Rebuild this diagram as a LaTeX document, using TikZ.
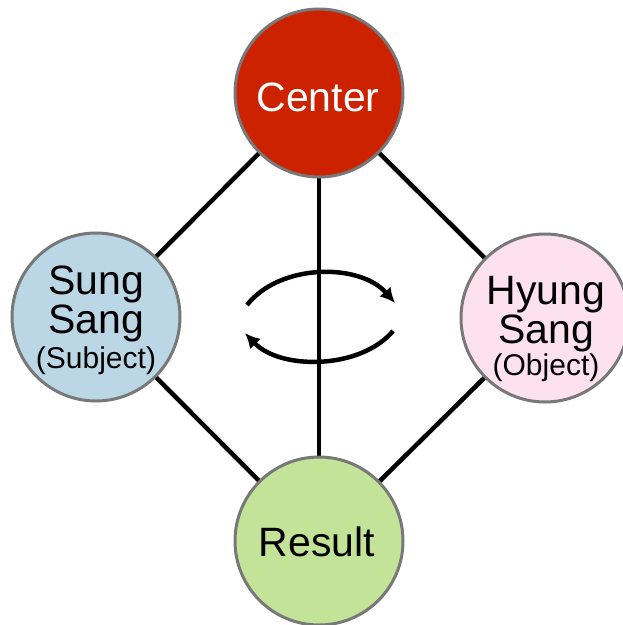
\documentclass[tikz,border=0pt]{standalone}
\usepackage{fontspec}
\setmainfont{Liberation Sans}
\usetikzlibrary{arrows.meta}
\definecolor{cred}{RGB}{204,34,0}
\definecolor{cblue}{RGB}{187,214,228}
\definecolor{cpink}{RGB}{253,225,238}
\definecolor{cgreen}{RGB}{194,227,152}
\definecolor{cborder}{RGB}{120,120,120}
\tikzset{
  ball/.style={circle, draw=cborder, line width=3pt, minimum size=168pt, inner sep=0pt},
  link/.style={line width=4.5pt, black},
  big/.style={font=\fontsize{41}{42}\selectfont, anchor=base, inner sep=0pt},
  small/.style={font=\fontsize{30}{31}\selectfont, anchor=base, inner sep=0pt},
  turn/.style={line width=4.5pt, black, -{Latex[length=15pt,width=15pt]}}
}
\begin{document}
\begin{tikzpicture}[x=1pt,y=-1pt]
\useasboundingbox (0,0) rectangle (623,625);
\coordinate (pc) at (319,93);
\coordinate (ps) at (96,317);
\coordinate (ph) at (545,318);
\coordinate (pr) at (319,541);
\draw[link] (pc) -- (ps);
\draw[link] (pc) -- (ph);
\draw[link] (pc) -- (pr);
\draw[link] (ps) -- (pr);
\draw[link] (ph) -- (pr);
\node[ball, fill=cred] (center) at (pc) {};
\node[ball, fill=cblue] (sung) at (ps) {};
\node[ball, fill=cpink] (hyung) at (ph) {};
\node[ball, fill=cgreen] (result) at (pr) {};
\node[big, white] (tc) at (318,111) {Center};
\node[big] (ts1) at (96,294) {Sung};
\node[big] (ts2) at (96,333) {Sang};
\node[small] (ts3) at (96,368) {(Subject)};
\node[big] (th1) at (546,304) {Hyung};
\node[big] (th2) at (546,343) {Sang};
\node[small] (th3) at (546,375) {(Object)};
\node[big] (tr) at (317,556) {Result};
\coordinate (a1) at (247,305);
\coordinate (a2) at (395,303);
\coordinate (b1) at (393,331);
\coordinate (b2) at (245,333);
\draw[turn] (a1) .. controls (280,263) and (360,263) .. (a2);
\draw[turn] (b1) .. controls (360,370) and (280,370) .. (b2);
\end{tikzpicture}
\end{document}
